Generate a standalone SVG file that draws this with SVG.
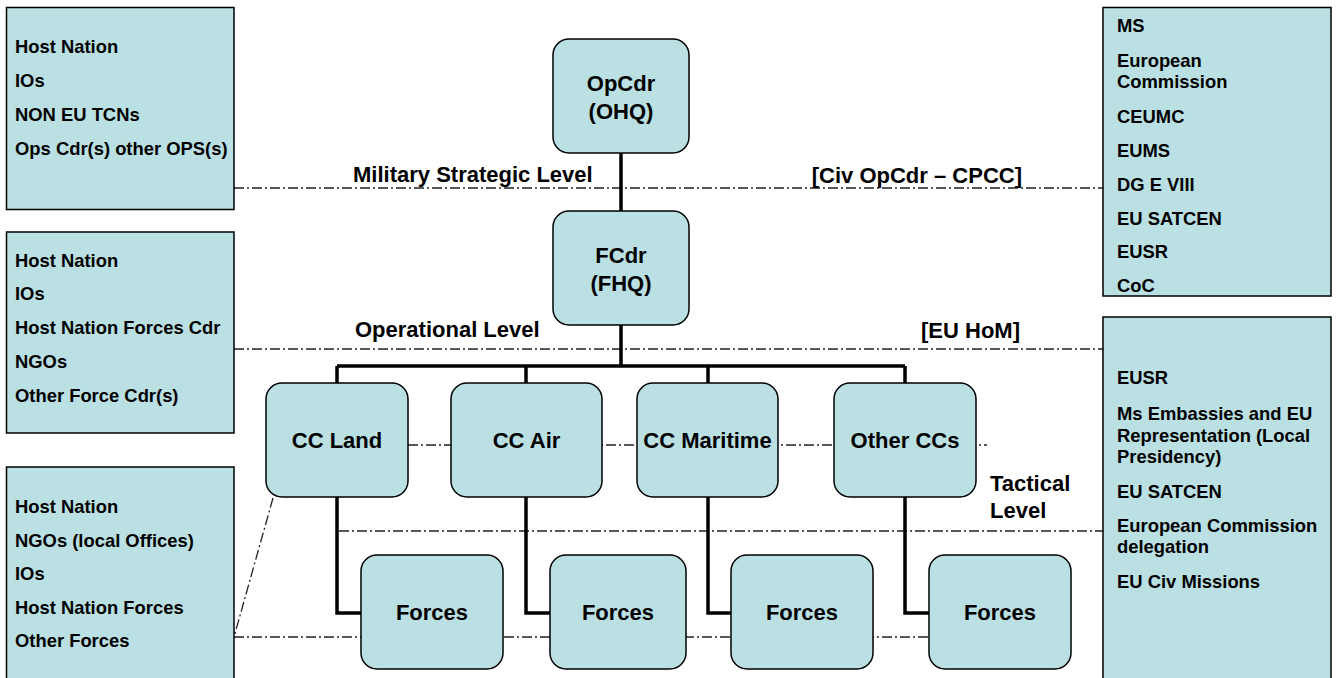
<svg xmlns="http://www.w3.org/2000/svg" width="1336" height="678" viewBox="0 0 1336 678">
<style>
.side{fill:#bbe0e3;stroke:#000;stroke-width:1.5}
.node{fill:#bbe0e3;stroke:#000;stroke-width:1.5}
.t{font-family:"Liberation Sans",Arial,sans-serif;font-weight:bold;fill:#000}
.s{font-size:18.4px}
.n{font-size:22px;text-anchor:middle}
.l{font-size:22px}
.dd{fill:none;stroke:#222;stroke-width:1.3;stroke-dasharray:10 3 2 3}
.k{fill:none;stroke:#000;stroke-width:3.5}
</style>
<rect width="1336" height="678" fill="#fff"/>
<g id="connectors">
<line class="dd" x1="234" y1="188" x2="1103" y2="188"/>
<line class="dd" x1="234" y1="349" x2="1103" y2="349"/>
<line class="dd" x1="408" y1="445" x2="987" y2="445"/>
<line class="dd" x1="339" y1="531" x2="1103" y2="531"/>
<line class="dd" x1="234" y1="637" x2="929" y2="637"/>
<line class="dd" x1="273" y1="498" x2="234" y2="637"/>
<path class="k" d="M621 153V211M621 325V366M337 366H905M337 366V383M526 366V383M708 366V383M905 366V383"/>
<path class="k" d="M337 497V613H361M526 497V613H550M708 497V613H731M905 497V613H929"/>
</g>
<g id="levels">
<text class="t l" x="353" y="182">Military Strategic Level</text>
<text class="t l" x="355" y="337">Operational Level</text>
<text class="t l" x="1022" y="183" text-anchor="end">[Civ OpCdr – CPCC]</text>
<text class="t l" x="1020" y="338" text-anchor="end">[EU HoM]</text>
<text class="t l" x="990" y="491">Tactical</text>
<text class="t l" x="990" y="518">Level</text>
</g>
<g id="left1">
<rect class="side" x="6.5" y="7.5" width="227.5" height="202"/>
<text class="t s" x="15" y="53">Host Nation</text>
<text class="t s" x="15" y="87">IOs</text>
<text class="t s" x="15" y="121">NON EU TCNs</text>
<text class="t s" x="15" y="155">Ops Cdr(s) other OPS(s)</text>
</g>
<g id="left2">
<rect class="side" x="6.5" y="232" width="227.5" height="201"/>
<text class="t s" x="15" y="267">Host Nation</text>
<text class="t s" x="15" y="300">IOs</text>
<text class="t s" x="15" y="334">Host Nation Forces Cdr</text>
<text class="t s" x="15" y="368">NGOs</text>
<text class="t s" x="15" y="402">Other Force Cdr(s)</text>
</g>
<g id="left3">
<rect class="side" x="6.5" y="467" width="227.5" height="230"/>
<text class="t s" x="15" y="513">Host Nation</text>
<text class="t s" x="15" y="547">NGOs (local Offices)</text>
<text class="t s" x="15" y="580">IOs</text>
<text class="t s" x="15" y="614">Host Nation Forces</text>
<text class="t s" x="15" y="647">Other Forces</text>
</g>
<g id="right1">
<rect class="side" x="1103" y="7.5" width="228" height="288.5"/>
<text class="t s" x="1117" y="32">MS</text>
<text class="t s" x="1117" y="67">European</text>
<text class="t s" x="1117" y="88">Commission</text>
<text class="t s" x="1117" y="123">CEUMC</text>
<text class="t s" x="1117" y="157">EUMS</text>
<text class="t s" x="1117" y="191">DG E VIII</text>
<text class="t s" x="1117" y="225">EU SATCEN</text>
<text class="t s" x="1117" y="258">EUSR</text>
<text class="t s" x="1117" y="292">CoC</text>
</g>
<g id="right2">
<rect class="side" x="1103" y="317" width="228" height="380"/>
<text class="t s" x="1117" y="384">EUSR</text>
<text class="t s" x="1117" y="420">Ms Embassies and EU</text>
<text class="t s" x="1117" y="442">Representation (Local</text>
<text class="t s" x="1117" y="463">Presidency)</text>
<text class="t s" x="1117" y="498">EU SATCEN</text>
<text class="t s" x="1117" y="532">European Commission</text>
<text class="t s" x="1117" y="553">delegation</text>
<text class="t s" x="1117" y="588">EU Civ Missions</text>
</g>
<g id="opcdr">
<rect class="node" x="553" y="39" width="136" height="114" rx="16"/>
<text class="t n" x="621" y="91">OpCdr</text>
<text class="t n" x="621" y="119">(OHQ)</text>
</g>
<g id="fcdr">
<rect class="node" x="553" y="211" width="136" height="114" rx="16"/>
<text class="t n" x="621" y="263">FCdr</text>
<text class="t n" x="621" y="291">(FHQ)</text>
</g>
<g id="ccland">
<rect class="node" x="266" y="383" width="142" height="114" rx="16"/>
<text class="t n" x="337" y="448">CC Land</text>
</g>
<g id="ccair">
<rect class="node" x="451" y="383" width="151" height="114" rx="16"/>
<text class="t n" x="526.5" y="448">CC Air</text>
</g>
<g id="ccmaritime">
<rect class="node" x="637" y="383" width="141" height="114" rx="16"/>
<text class="t n" x="707.5" y="448">CC Maritime</text>
</g>
<g id="otherccs">
<rect class="node" x="834" y="383" width="142" height="114" rx="16"/>
<text class="t n" x="905" y="448">Other CCs</text>
</g>
<g id="forces1">
<rect class="node" x="361" y="555" width="142" height="114" rx="16"/>
<text class="t n" x="432" y="620">Forces</text>
</g>
<g id="forces2">
<rect class="node" x="550" y="555" width="136" height="114" rx="16"/>
<text class="t n" x="618" y="620">Forces</text>
</g>
<g id="forces3">
<rect class="node" x="731" y="555" width="142" height="114" rx="16"/>
<text class="t n" x="802" y="620">Forces</text>
</g>
<g id="forces4">
<rect class="node" x="929" y="555" width="142" height="114" rx="16"/>
<text class="t n" x="1000" y="620">Forces</text>
</g>
</svg>
